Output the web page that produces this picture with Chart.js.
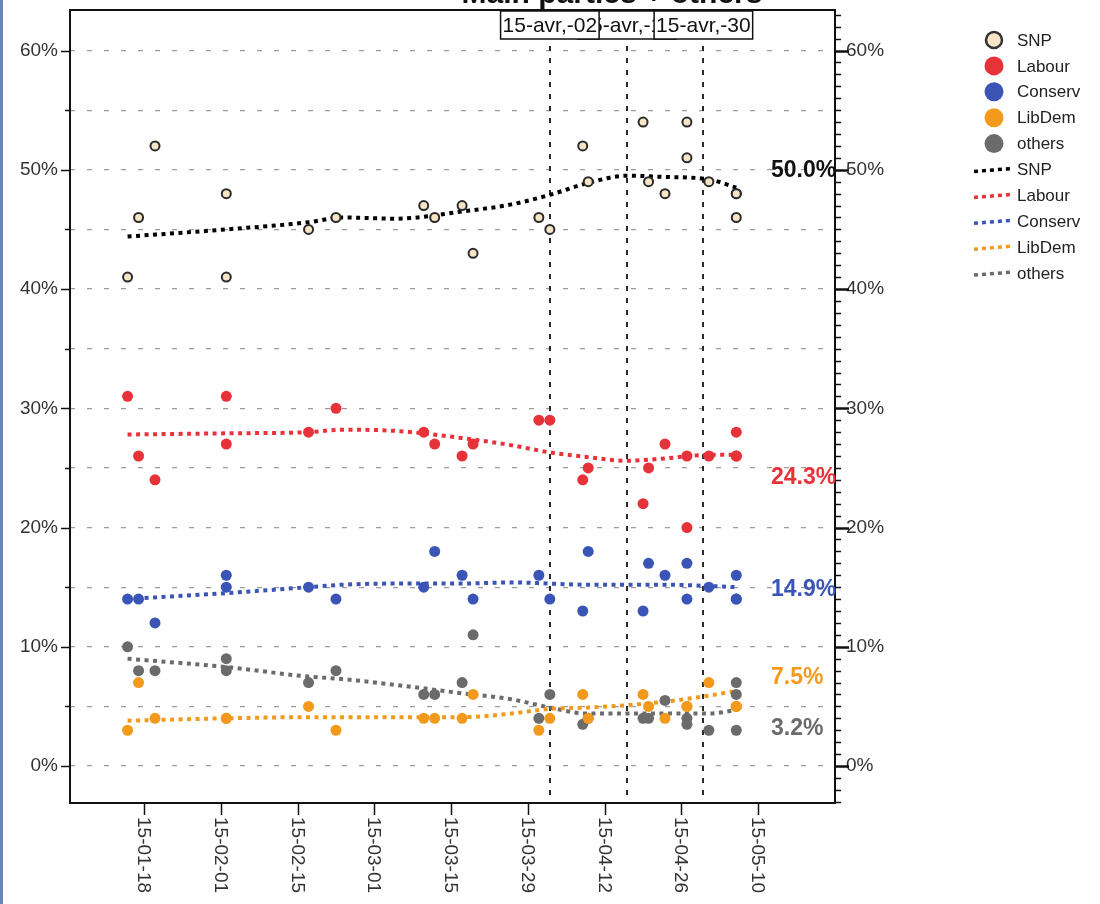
<!DOCTYPE html>
<html>
<head>
<meta charset="utf-8">
<title>Main parties + others</title>
<script src="https://cdn.jsdelivr.net/npm/chart.js@4.4.1/dist/chart.umd.min.js"></script>
<style>
  html, body { margin: 0; padding: 0; background: #fff; }
  #wrap { position: relative; width: 1100px; height: 904px; overflow: hidden; }
  #edge { position: absolute; left: 0; top: 0; width: 3px; height: 904px; background: #6f84bd; }
</style>
</head>
<body>
<div id="wrap">
  <canvas id="canvas" width="1100" height="904"></canvas>
  <div id="edge"></div>
</div>
<script>
// Scottish polls, Jan-May 2015 (share of vote, %)
let parties = ['SNP', 'Labour', 'Conserv', 'LibDem', 'others'];
let pointColors = ['#f8e4c6', '#e8323a', '#3a55b5', '#f39a1c', '#6b6b6b'];
let lineColors  = ['#000000', '#e8323a', '#3a55b5', '#f39a1c', '#6b6b6b'];

let pollDates = ['2015-01-15', '2015-01-17', '2015-01-20', '2015-02-02', '2015-02-02',
                 '2015-02-17', '2015-02-22', '2015-03-10', '2015-03-12', '2015-03-17',
                 '2015-03-19', '2015-03-31', '2015-04-02', '2015-04-08', '2015-04-09',
                 '2015-04-19', '2015-04-20', '2015-04-23', '2015-04-27', '2015-04-27',
                 '2015-05-01', '2015-05-06', '2015-05-06', '2015-05-06'];
let snp     = [41, 46, 52, 48, 41, 45, 46, 47, 46, 47, 43, 46, 45, 52, 49, 54, 49, 48, 54, 51, 49, 48, 46, 48];
let labour  = [31, 26, 24, 27, 31, 28, 30, 28, 27, 26, 27, 29, 29, 24, 25, 22, 25, 27, 20, 26, 26, 26, 28, 26];
let conserv = [14, 14, 12, 15, 16, 15, 14, 15, 18, 16, 14, 16, 14, 13, 18, 13, 17, 16, 17, 14, 15, 16, 14, 14];
let libdem  = [3, 7, 4, 4, 4, 5, 3, 4, 4, 4, 6, 3, 4, 6, 4, 6, 5, 4, 5, 5, 7, 5, 5, 5];
let others  = [10, 8, 8, 9, 8, 7, 8, 6, 6, 7, 11, 4, 6, 3.5, 4, 4, 4, 5.5, 4, 3.5, 3, 6, 7, 3];

// smoothed trend
let trendDates = ['2015-01-15', '2015-02-02', '2015-02-17', '2015-02-23', '2015-03-05',
                  '2015-03-17', '2015-03-26', '2015-04-02', '2015-04-09', '2015-04-16',
                  '2015-04-23', '2015-05-01', '2015-05-06'];
let snpTrend     = [44.4, 45.0, 45.6, 46.0, 45.9, 46.5, 47.1, 47.9, 48.9, 49.5, 49.4, 49.2, 48.5];
let labourTrend  = [27.8, 27.9, 28.0, 28.2, 28.1, 27.5, 26.9, 26.3, 25.9, 25.6, 25.8, 26.1, 26.1];
let conservTrend = [14.0, 14.5, 15.0, 15.2, 15.3, 15.3, 15.4, 15.3, 15.2, 15.2, 15.2, 15.1, 15.0];
let libdemTrend  = [3.8, 4.0, 4.1, 4.1, 4.1, 4.1, 4.4, 4.8, 4.9, 5.1, 5.4, 5.9, 6.3];
let othersTrend  = [9.0, 8.3, 7.5, 7.3, 6.8, 6.1, 5.6, 4.9, 4.4, 4.4, 4.4, 4.4, 4.7];

// election result
let results = [50.0, 24.3, 14.9, 7.5, 3.2];

let xTickDates = ['2015-01-18', '2015-02-01', '2015-02-15', '2015-03-01', '2015-03-15',
                  '2015-03-29', '2015-04-12', '2015-04-26', '2015-05-10'];
let refDates  = ['2015-04-02', '2015-04-16', '2015-04-30'];
let refLabels = ['15-avr,-02', '15-avr,-16', '15-avr,-30'];

let title = 'Main parties + others';
let FONT = '"Liberation Sans", Arial, sans-serif';

const DAY = 86400000;
const T0 = Date.UTC(2015, 0, 1);
function dayNum(s) {
  let p = s.split('-').map(Number);
  return (Date.UTC(p[0], p[1] - 1, p[2]) - T0) / DAY;
}
function pad(n) { return (n < 10 ? '0' : '') + n; }
function fmtDay(n) {
  let d = new Date(T0 + n * DAY);
  return String(d.getUTCFullYear()).slice(2) + '-' + pad(d.getUTCMonth() + 1) + '-' + pad(d.getUTCDate());
}

let pollSeries  = [snp, labour, conserv, libdem, others];
let trendSeries = [snpTrend, labourTrend, conservTrend, libdemTrend, othersTrend];

let datasets = [];
// points first so they sit on top of the trend lines
pollSeries.forEach((vals, i) => {
  datasets.push({
    label: parties[i],
    data: pollDates.map((d, j) => ({ x: dayNum(d), y: vals[j] })),
    backgroundColor: pointColors[i],
    borderColor: i === 0 ? '#2b2b2b' : pointColors[i],
    borderWidth: i === 0 ? 2 : 0,
    pointRadius: i === 0 ? 4.5 : 5.5
  });
});
trendSeries.forEach((vals, i) => {
  datasets.push({
    type: 'line',
    label: parties[i],
    data: trendDates.map((d, j) => ({ x: dayNum(d), y: vals[j] })),
    borderColor: lineColors[i],
    borderWidth: 4,
    borderDash: [4, 4.5],
    borderCapStyle: 'butt',
    pointRadius: 0,
    fill: false,
    cubicInterpolationMode: 'monotone'
  });
});

let pct = v => (Math.abs(Math.round(v) % 10) === 0 && Math.abs(v - Math.round(v)) < 1e-6) ? Math.round(v) + '%' : '';

// fixed axis widths, no extra room above/below for end labels
function fixWidth(w) {
  return s => { s.width = w; s.paddingTop = 0; s.paddingBottom = 0; };
}

let decor = {
  id: 'decor',
  beforeDatasetsDraw(chart) {
    let { ctx, chartArea: a, scales } = chart;
    ctx.save();
    ctx.strokeStyle = '#2a2a2a';
    ctx.lineWidth = 2;
    ctx.setLineDash([5, 7]);
    refDates.forEach(d => {
      let px = Math.round(scales.x.getPixelForValue(dayNum(d)));
      ctx.beginPath();
      ctx.moveTo(px, a.top);
      ctx.lineTo(px, a.bottom);
      ctx.stroke();
    });
    ctx.restore();
  },
  afterDraw(chart) {
    let { ctx, chartArea: a, scales } = chart;
    let x = scales.x, y = scales.y;
    ctx.save();

    // frame
    ctx.strokeStyle = '#111';
    ctx.lineWidth = 2;
    ctx.strokeRect(a.left, a.top, a.right - a.left, a.bottom - a.top);

    // y tick marks
    ctx.lineWidth = 1.5;
    for (let v = 0; v <= 60; v += 5) {
      let py = Math.round(y.getPixelForValue(v)) + 0.5;
      let len = v % 10 === 0 ? 9 : 5;
      ctx.beginPath(); ctx.moveTo(a.left - len, py); ctx.lineTo(a.left, py); ctx.stroke();
    }
    for (let v = -3; v <= 63; v += 1) {
      let py = Math.round(y.getPixelForValue(v)) + 0.5;
      let len = v % 10 === 0 ? 14 : 6;
      ctx.lineWidth = v % 10 === 0 ? 2.5 : 1.5;
      ctx.beginPath(); ctx.moveTo(a.right, py); ctx.lineTo(a.right + len, py); ctx.stroke();
    }

    // x ticks and rotated date labels
    ctx.lineWidth = 1.5;
    ctx.fillStyle = '#333';
    ctx.font = '19px ' + FONT;
    xTickDates.forEach(d => {
      let px = Math.round(x.getPixelForValue(dayNum(d))) + 0.5;
      ctx.beginPath(); ctx.moveTo(px, a.bottom); ctx.lineTo(px, a.bottom + 12); ctx.stroke();
      ctx.save();
      ctx.translate(px - 1, a.bottom + 14);
      ctx.rotate(Math.PI / 2);
      ctx.textAlign = 'left';
      ctx.textBaseline = 'middle';
      ctx.fillText(fmtDay(dayNum(d)), 0, 0);
      ctx.restore();
    });

    // labels of the vertical reference lines (middle one underneath)
    ctx.font = '21px ' + FONT;
    ctx.textAlign = 'center';
    ctx.textBaseline = 'middle';
    [1, 0, 2].forEach(i => {
      let px = x.getPixelForValue(dayNum(refDates[i]));
      let w = ctx.measureText(refLabels[i]).width + 4;
      ctx.fillStyle = '#fff';
      ctx.fillRect(px - w / 2, a.top + 1, w, 28);
      ctx.strokeStyle = '#111';
      ctx.lineWidth = 1.5;
      ctx.strokeRect(px - w / 2, a.top + 1, w, 28);
      ctx.fillStyle = '#111';
      ctx.fillText(refLabels[i], px, a.top + 16);
    });

    // title, clipped at the top edge
    ctx.font = 'bold 30px ' + FONT;
    ctx.textAlign = 'center';
    ctx.textBaseline = 'alphabetic';
    ctx.fillStyle = '#111';
    ctx.fillText(title, 612, 3);

    // election result labels
    ctx.font = 'bold 23px ' + FONT;
    ctx.textAlign = 'left';
    ctx.textBaseline = 'middle';
    results.forEach((r, i) => {
      ctx.fillStyle = i === 0 ? '#111' : lineColors[i];
      ctx.fillText(r.toFixed(1) + '%', 771, y.getPixelForValue(r) + 1);
    });

    // legend
    ctx.font = '17px ' + FONT;
    ctx.textAlign = 'left';
    ctx.textBaseline = 'middle';
    parties.forEach((p, i) => {
      let cy = 40 + i * 25.9;
      ctx.beginPath();
      ctx.arc(994, cy, i === 0 ? 8 : 9.5, 0, Math.PI * 2);
      ctx.fillStyle = pointColors[i];
      ctx.fill();
      if (i === 0) { ctx.lineWidth = 2.5; ctx.strokeStyle = '#333'; ctx.stroke(); }
      ctx.fillStyle = '#222';
      ctx.fillText(p, 1017, cy + 1);
    });
    parties.forEach((p, i) => {
      let cy = 40 + (i + 5) * 25.9;
      ctx.save();
      ctx.strokeStyle = lineColors[i];
      ctx.lineWidth = 3.5;
      ctx.setLineDash([4, 4]);
      ctx.beginPath(); ctx.moveTo(974, cy + 2); ctx.lineTo(1012, cy - 1); ctx.stroke();
      ctx.restore();
      ctx.fillStyle = '#222';
      ctx.fillText(p, 1017, cy + 1);
    });

    ctx.restore();
  }
};

Chart.defaults.font.family = FONT;

let chart = new Chart(document.getElementById('canvas'), {
  type: 'scatter',
  data: { datasets: datasets },
  options: {
    responsive: false,
    animation: false,
    layout: { padding: { top: 10, bottom: 101, left: 0, right: 0 } },
    plugins: {
      legend: { display: false },
      tooltip: { enabled: false }
    },
    scales: {
      x: {
        type: 'linear',
        display: false,
        min: dayNum('2015-01-18') - 13.5,
        max: dayNum('2015-05-10') + 14
      },
      y: {
        position: 'left',
        min: -3.1,
        max: 63.4,
        afterFit: fixWidth(70),
        ticks: {
          stepSize: 5,
          includeBounds: false,
          padding: 12,
          color: '#333',
          font: { size: 19 },
          callback: pct
        },
        grid: { color: '#9c9c9c', lineWidth: 1.2, drawTicks: false },
        border: { display: false, dash: [5, 12] }
      },
      y2: {
        position: 'right',
        min: -3.1,
        max: 63.4,
        afterFit: fixWidth(265),
        ticks: {
          stepSize: 5,
          includeBounds: false,
          padding: 11,
          color: '#333',
          font: { size: 19 },
          callback: pct
        },
        grid: { drawOnChartArea: false, drawTicks: false },
        border: { display: false }
      }
    }
  },
  plugins: [decor]
});
</script>
</body>
</html>
